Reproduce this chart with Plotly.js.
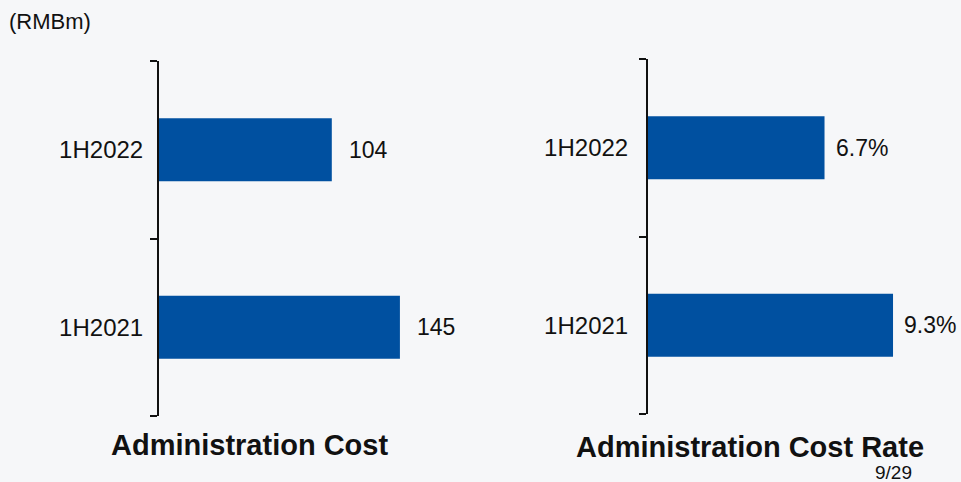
<!DOCTYPE html>
<html>
<head>
<meta charset="utf-8">
<script src="https://cdn.plot.ly/plotly-3.0.1.min.js"></script>
<style>html,body{margin:0;padding:0;background:#f6f7f9;}#chart{width:961px;height:482px;}</style>
</head>
<body>
<div id="chart"></div>
<script>
const categories = ['1H2021', '1H2022'];
const adminCost = [145, 104];
const adminCostLabels = ['145', '104'];
const adminCostRate = [9.3, 6.7];
const adminCostRateLabels = ['9.3%', '6.7%'];
const titleLeft = 'Administration Cost';
const titleRight = 'Administration Cost Rate';
const unitLabel = '(RMBm)';
const pageLabel = '9/29';

const barColor = '#0050a0';
const font = 'Liberation Sans, Arial, sans-serif';
const W = 961, H = 482;
const px = v => v / W;
const py = v => 1 - v / H;

const traces = [
  {type: 'bar', orientation: 'h', y: categories, x: adminCost, xaxis: 'x', yaxis: 'y',
   marker: {color: barColor}, width: 0.355, hoverinfo: 'none'},
  {type: 'bar', orientation: 'h', y: categories, x: adminCostRate, xaxis: 'x2', yaxis: 'y2',
   marker: {color: barColor}, width: 0.355, hoverinfo: 'none'}
];

const annotations = [];
categories.forEach((c, i) => {
  annotations.push({xref: 'x', yref: 'y', x: adminCost[i], y: c, text: adminCostLabels[i],
    showarrow: false, xanchor: 'left', yanchor: 'middle', xshift: 15,
    font: {family: font, size: 23, color: '#111'}});
  annotations.push({xref: 'x2', yref: 'y2', x: adminCostRate[i], y: c, text: adminCostRateLabels[i],
    showarrow: false, xanchor: 'left', yanchor: 'middle', xshift: 9,
    font: {family: font, size: 23, color: '#111'}});
});
annotations.push({xref: 'paper', yref: 'paper', x: px(250), y: py(445), text: '<b>' + titleLeft + '</b>',
  showarrow: false, xanchor: 'center', yanchor: 'middle', font: {family: font, size: 29, color: '#111'}});
annotations.push({xref: 'paper', yref: 'paper', x: px(750), y: py(447), text: '<b>' + titleRight + '</b>',
  showarrow: false, xanchor: 'center', yanchor: 'middle', font: {family: font, size: 29, color: '#111'}});
annotations.push({xref: 'paper', yref: 'paper', x: px(7), y: py(22), text: unitLabel,
  showarrow: false, xanchor: 'left', yanchor: 'middle', font: {family: font, size: 22, color: '#111'}});
annotations.push({xref: 'paper', yref: 'paper', x: px(893), y: py(472), text: pageLabel,
  showarrow: false, xanchor: 'center', yanchor: 'middle', font: {family: font, size: 19, color: '#111'}});

const yaxisCommon = {
  type: 'category', range: [-0.5002, 1.5002], showline: true, linecolor: '#111', linewidth: 2,
  ticks: 'outside', ticklen: 7, tickwidth: 2, tickcolor: '#111', tickson: 'boundaries',
  showgrid: false, zeroline: false, fixedrange: true,
  tickfont: {family: font, size: 24, color: '#111'}
};

const layout = {
  width: W, height: H,
  margin: {l: 0, r: 0, t: 0, b: 0},
  paper_bgcolor: '#f6f7f9', plot_bgcolor: 'rgba(0,0,0,0)',
  showlegend: false,
  xaxis: {domain: [px(159), px(480.5)], range: [0, 193.5], visible: false, fixedrange: true},
  yaxis: Object.assign({}, yaxisCommon, {domain: [py(416), py(61)], anchor: 'x', ticklabelstandoff: 9}),
  xaxis2: {domain: [px(648), 1], range: [0, 11.88], visible: false, fixedrange: true},
  yaxis2: Object.assign({}, yaxisCommon, {domain: [py(414), py(59)], anchor: 'x2', ticklabelstandoff: 13}),
  annotations: annotations
};

Plotly.newPlot('chart', traces, layout, {displayModeBar: false, staticPlot: true});
</script>
</body>
</html>
